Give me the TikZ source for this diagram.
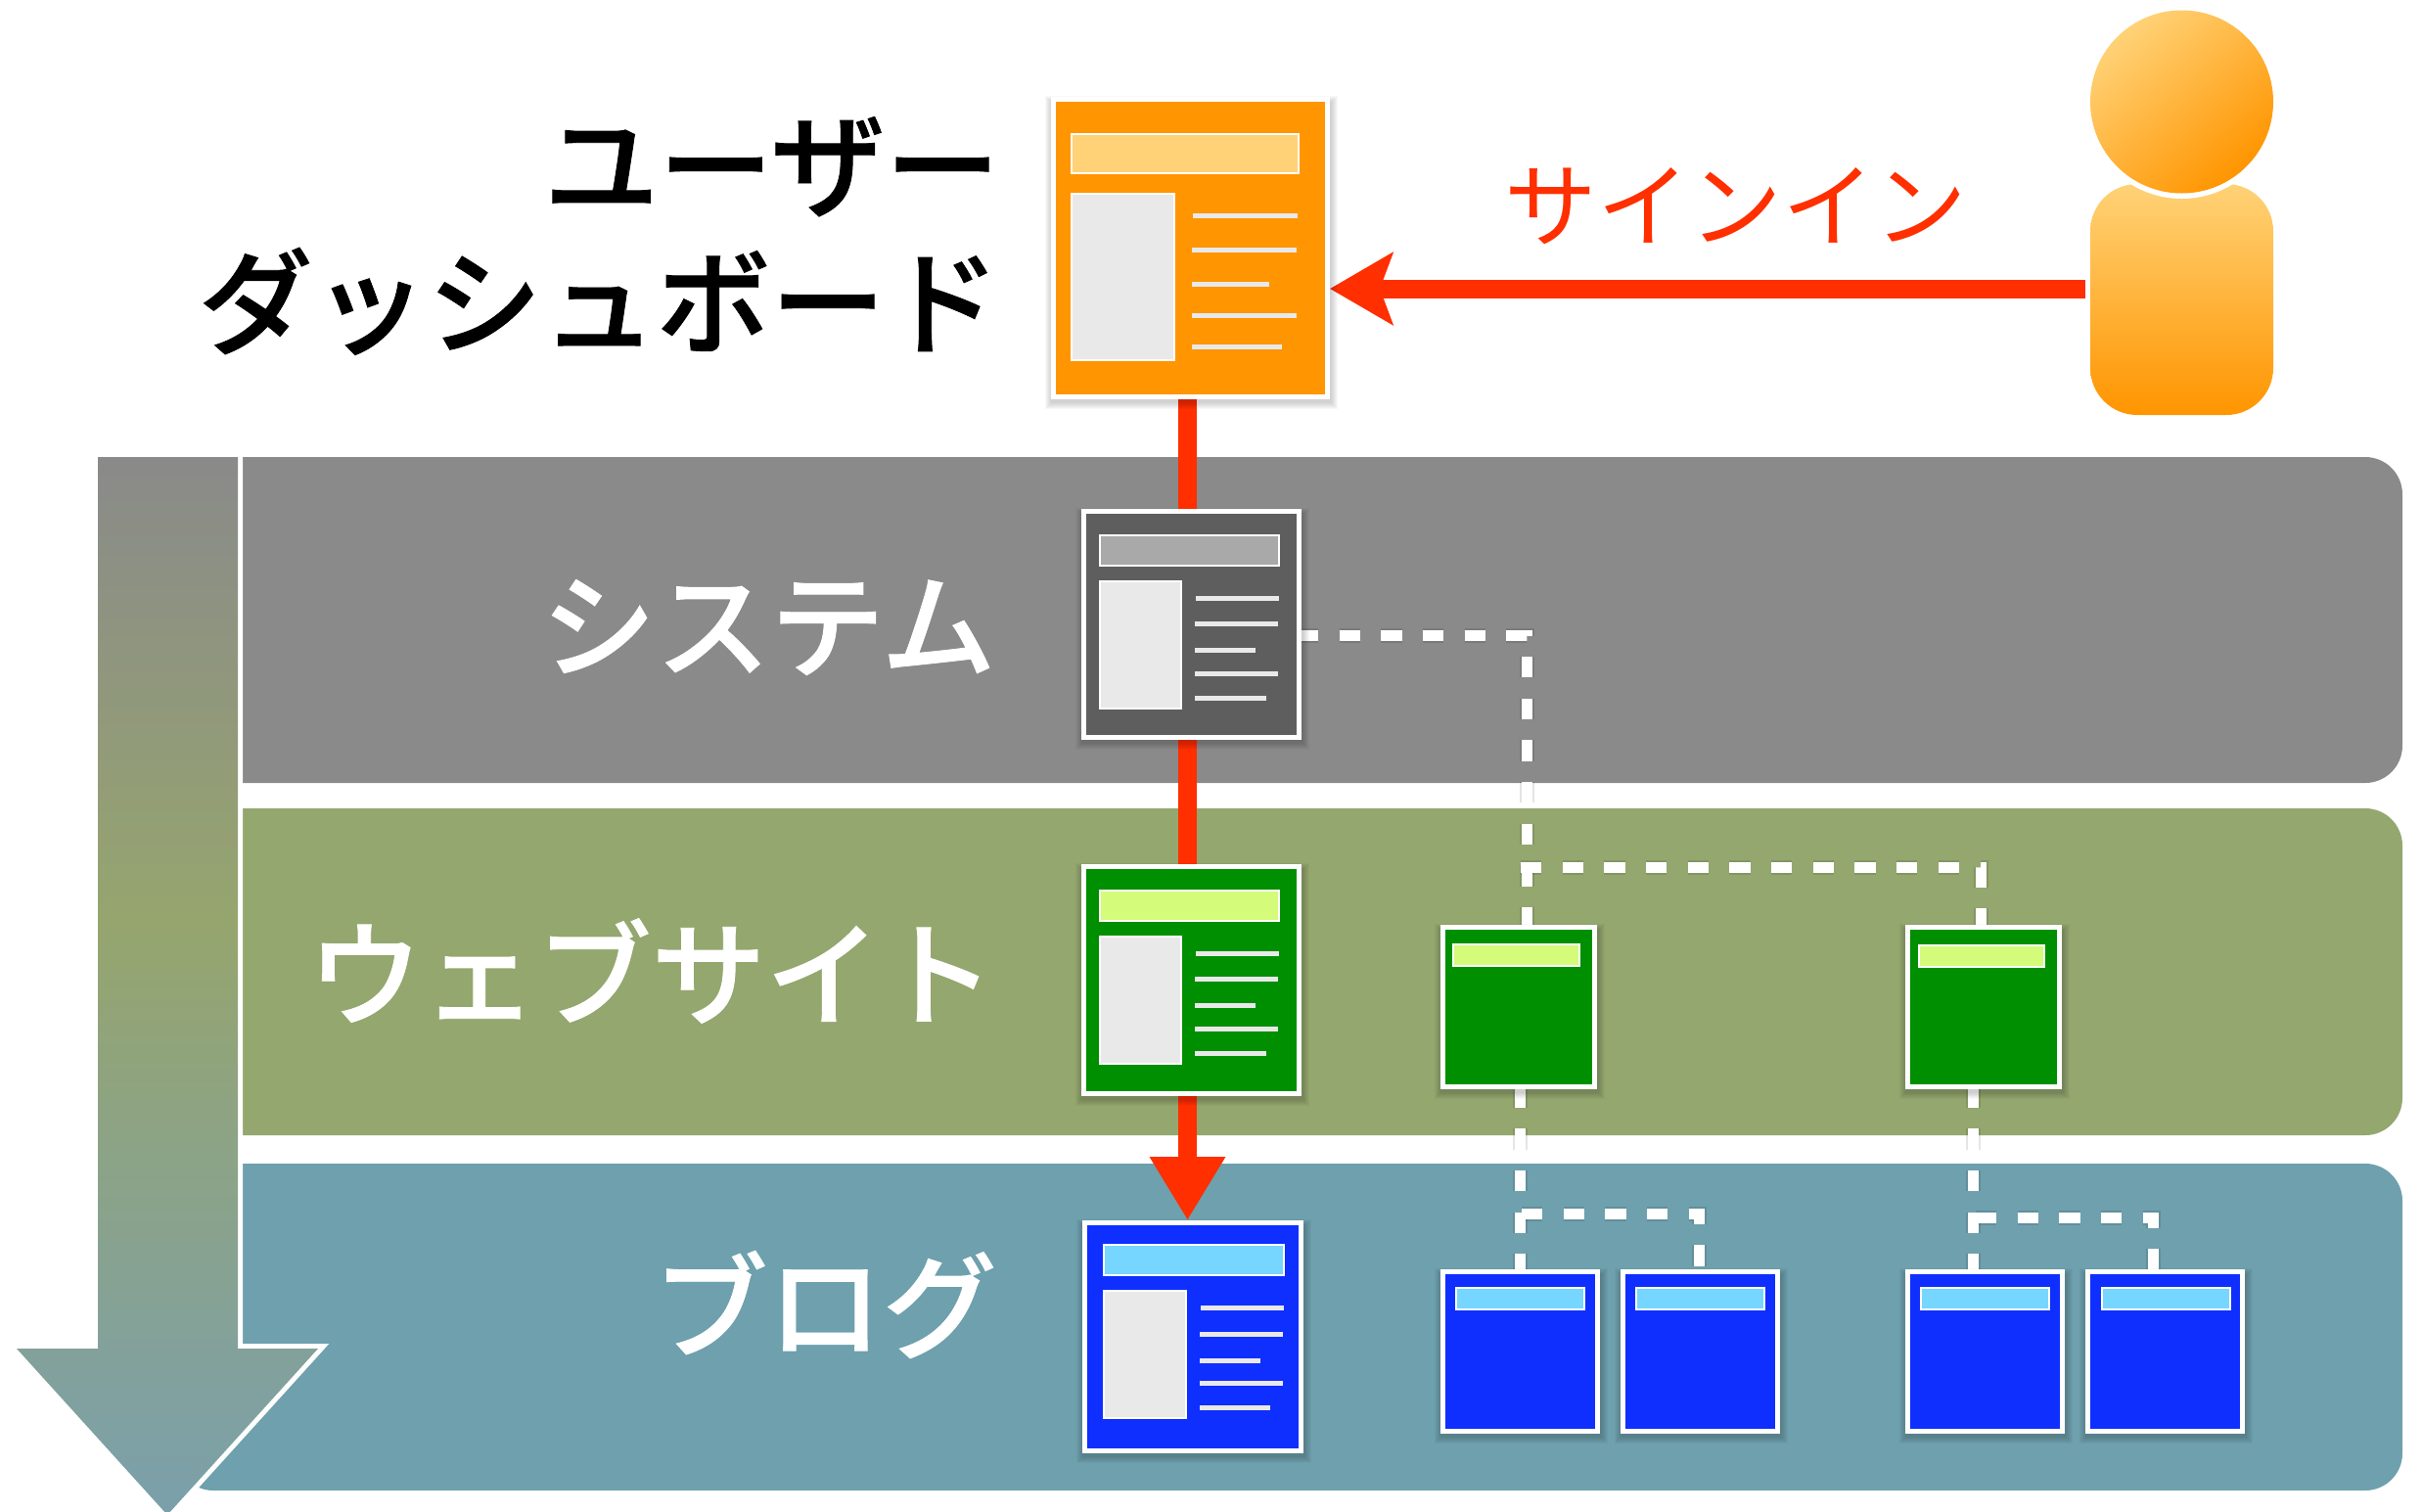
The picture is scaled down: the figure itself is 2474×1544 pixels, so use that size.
\documentclass[tikz,border=0pt]{standalone}
\usepackage{fontspec}
\newfontfamily\jp{Noto Sans CJK JP}
\newfontfamily\jpm[FakeBold=0.7]{Noto Sans CJK JP Medium}
\usetikzlibrary{arrows.meta}
\definecolor{bandgray}{HTML}{8A8A8A}
\definecolor{bandgreen}{HTML}{94A76E}
\definecolor{bandblue}{HTML}{6EA0AD}
\definecolor{redc}{HTML}{FF2F00}
\definecolor{oranged}{HTML}{FF9500}
\definecolor{orangel}{HTML}{FFD277}
\definecolor{grayd}{HTML}{5E5E5E}
\definecolor{grayl}{HTML}{A9A9A9}
\definecolor{greend}{HTML}{008F00}
\definecolor{greenl}{HTML}{D4FB79}
\definecolor{blued}{HTML}{0F2FFF}
\definecolor{bluel}{HTML}{76D6FF}
\definecolor{imgc}{HTML}{E9E9E9}
\definecolor{gradb}{HTML}{7BA0AB}
\definecolor{gradm}{HTML}{96A56E}
\definecolor{gradt}{HTML}{8A8A8A}
\pgfdeclareverticalshading{downgrad}{100bp}{color(0bp)=(gradb);color(25bp)=(gradb);color(53bp)=(gradm);color(75bp)=(gradt);color(100bp)=(gradt)}
\tikzset{
  x=0.5pt,y=-0.5pt,
  band/.style={rounded corners=19pt},
  pagebox/.style={rectangle,inner sep=0pt,outer sep=0pt},
  redline/.style={draw=redc,line width=9.5pt},
  dashline/.style={draw=white,line width=5.5pt,dash pattern=on 10.67pt off 10.67pt},
  dashshadow/.style={draw=black,opacity=.10,line width=7.5pt,dash pattern=on 10.67pt off 10.67pt},
  inner/.style={draw=white,line width=1pt},
  barline/.style={draw=imgc,line width=2.5pt},
  labelw/.style={font=\jpm\fontsize{58.5}{70}\selectfont,text=white,anchor=east,inner sep=0pt},
  labelb/.style={font=\jpm\fontsize{58.5}{70}\selectfont,text=black,anchor=east,inner sep=0pt,align=right},
  labelr/.style={font=\jp\fontsize{47.3}{56}\selectfont,text=redc,inner sep=0pt},
}
% name, x0, y0, x1, y1, fill
\newcommand\boxnode[6]{%
  \pgfmathsetmacro\bw{(#4-#2)*0.5}%
  \pgfmathsetmacro\bh{(#5-#3)*0.5}%
  \node[pagebox,minimum width=\bw pt,minimum height=\bh pt] (#1) at ({(#2+#4)/2},{(#3+#5)/2}) {};%
}
\newcommand\boxpaint[6]{%
  \foreach \k in {1,...,7}{\fill[black,opacity=.028] ({#2+1-\k},{#3+6-\k}) rectangle ({#4+1+\k},{#5+3+\k});}%
  \fill[white] (#1.north west) rectangle (#1.south east);%
  \fill[#6] ({#2+5},{#3+5}) rectangle ({#4-5},{#5-5});%
}
\newcommand\allboxes{%
  \onebox{dash}{1074}{99}{1359}{408}{oranged}
  \onebox{sys}{1105}{520}{1330}{756}{grayd}
  \onebox{web}{1105}{883}{1330}{1120}{greend}
  \onebox{blog}{1106}{1247}{1332}{1485}{blued}
  \onebox{w1}{1472}{945}{1632}{1113}{greend}
  \onebox{w2}{1947}{945}{2107}{1113}{greend}
  \onebox{bA}{1472}{1297}{1635}{1465}{blued}
  \onebox{bB}{1656}{1297}{1819}{1465}{blued}
  \onebox{bC}{1947}{1297}{2110}{1465}{blued}
  \onebox{bD}{2131}{1297}{2294}{1465}{blued}
}
\newcommand\pgrect[5]{\filldraw[inner,fill=#5] ({#1+1},{#2+1}) rectangle ({#3-1},{#4-1});}
\newcommand\pgbar[3]{\draw[barline] (#1,#3) -- (#2,#3);}
\newcommand\pgdetail[3]{%
  \begin{scope}[shift={(#1,#2)}]
    \pgrect{1123}{546}{1308}{579}{#3}
    \pgrect{1123}{593}{1208}{725}{imgc}
    \pgbar{1222}{1307}{611}
    \pgbar{1221}{1306}{637}
    \pgbar{1221}{1283}{664}
    \pgbar{1221}{1306}{688}
    \pgbar{1221}{1294}{713}
  \end{scope}}
\newcommand\dashset[1]{%
  \draw[#1,dash phase=2pt] (sys.east |- t1) -- (t1) -- (t1 |- w1.north);
  \draw[#1] (b1) -- (b1e) -- (b1e |- w2.north);
  \draw[#1,dash phase=1.2pt] (w1.south -| d1) -- (d1 |- bA.north);
  \draw[#1] (h1) -- (h1e) -- (h1e |- bB.north);
  \draw[#1,dash phase=1.2pt] (w2.south -| d2) -- (d2 |- bC.north);
  \draw[#1] (h2) -- (h2e) -- (h2e |- bD.north);
}
\begin{document}
\begin{tikzpicture}
\useasboundingbox (0,0) rectangle (2474,1544);
% bands
\fill[band,bandgray]  (180,467) rectangle (2455,800);
\fill[band,bandgreen] (180,826) rectangle (2455,1160);
\fill[band,bandblue]  (180,1189) rectangle (2455,1523);
% big arrow
\def\arrowpath{(100,467) -- (243,467) -- (243,1378) -- (325,1378) -- (171,1548) -- (17,1378) -- (100,1378) -- cycle}
\draw[white,line width=5pt,miter limit=10] \arrowpath;
\begin{scope}
\clip (0,0) rectangle (2474,1544);
\shade[shading=downgrad] \arrowpath;
\end{scope}
% user figure
\coordinate (usertail) at (2131,295);
\coordinate (spine) at (1213.5,600);
\shade[top color=orangel,bottom color=oranged,rounded corners=24pt] (2136,188) rectangle (2323,424);
\fill[white] (2229.5,104) circle [radius=49.5pt];
\shade[top color=orangel,bottom color=oranged,shading angle=40] (2229.5,104) circle [radius=46.75pt];
% connector bends
\coordinate (t1) at (1560,649);
\coordinate (b1) at (1554,886);
\coordinate (b1e) at (2024,886);
\coordinate (d1) at (1553,1240);
\coordinate (h1) at (1555,1240);
\coordinate (h1e) at (1736,1240);
\coordinate (d2) at (2016,1244);
\coordinate (h2) at (2019,1244);
\coordinate (h2e) at (2200,1244);
% box nodes
\let\onebox\boxnode
\allboxes
% connectors
\draw[redline] (dash.south -| spine) -- (sys.north -| spine);
\draw[redline] (sys.south -| spine) -- (web.north -| spine);
\draw[redline,-{Stealth[length=32.5pt,width=36.5pt,inset=0pt]}] (web.south -| spine) -- (blog.north -| spine);
\draw[redline,-{Stealth[length=32pt,width=36.5pt,inset=6.5pt]}] (usertail) -- (dash.east |- usertail);
\begin{scope}[shift={(1,3)}]\dashset{dashshadow}\end{scope}
\dashset{dashline}
% box paint
\let\onebox\boxpaint
\allboxes
% page interiors
\pgrect{1094}{136}{1328}{178}{orangel}
\pgrect{1094}{197}{1201}{369}{imgc}
\pgbar{1219}{1326}{220}
\pgbar{1218}{1325}{255}
\pgbar{1218}{1297}{290}
\pgbar{1218}{1325}{322}
\pgbar{1218}{1310}{354}
\pgdetail{0}{0}{grayl}
\pgdetail{0}{363}{greenl}
\pgrect{1127}{1271}{1313}{1304}{bluel}
\pgrect{1127}{1318}{1213}{1450}{imgc}
\pgbar{1227}{1312}{1336}
\pgbar{1226}{1311}{1363}
\pgbar{1226}{1288}{1390}
\pgbar{1226}{1311}{1413}
\pgbar{1226}{1298}{1438}
\pgrect{1484}{964}{1615}{988}{greenl}
\pgrect{1960}{965}{2090}{989}{greenl}
\pgrect{1487}{1315}{1620}{1339}{bluel}
\pgrect{1671}{1315}{1804}{1339}{bluel}
\pgrect{1962}{1315}{2095}{1339}{bluel}
\pgrect{2147}{1315}{2280}{1339}{bluel}
% labels
\node[labelb] (tdash) at (1022,241) {ユーザー\\ダッシュボード};
\node[labelw] (tsys) at (1018,641) {システム};
\node[labelw] (tweb) at (1017,992) {ウェブサイト};
\node[labelw] (tblog) at (1019,1333) {ブログ};
\node[labelr] (tsign) at (1774,211) {サインイン};
\end{tikzpicture}
\end{document}
